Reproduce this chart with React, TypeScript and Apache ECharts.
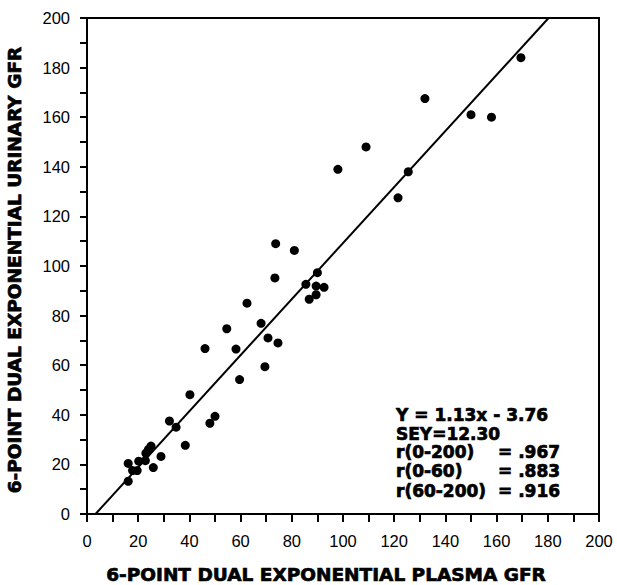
import React, { useEffect, useRef } from "react";
import * as echarts from "echarts";

const xTitle = "6-POINT DUAL EXPONENTIAL PLASMA GFR";
const yTitle = "6-POINT DUAL EXPONENTIAL URINARY GFR";

const plasmaGFR = [
  169.5, 132, 150, 158, 109, 98, 125.5, 121.5,
  73.7, 81, 90, 73.4, 85.5, 89.5, 92.6, 89.5, 86.8, 62.5, 68, 54.6, 70.7, 74.6,
  46.1, 58.2, 69.5, 59.6, 40.2, 50, 48, 32.2, 34.8, 38.4, 28.9, 25, 24, 23,
  20.2, 16.1, 22.8, 25.9, 17.8, 19.6, 16.1,
];
const urinaryGFR = [
  184, 167.5, 161, 160, 148, 139, 138, 127.5,
  109, 106.3, 97.3, 95.2, 92.6, 91.9, 91.4, 88.4, 86.6, 85, 76.9, 74.7, 71, 69,
  66.7, 66.5, 59.4, 54.2, 48.1, 39.4, 36.6, 37.5, 35, 27.7, 23.2, 27.4, 26, 24.5,
  21.3, 20.4, 21.5, 18.7, 17.5, 17.5, 13.2,
];

const slope = 1.13;
const intercept = -3.76;
const statLabels = ["r(0-200)", "r(0-60)", "r(60-200)"];
const statValues = ["= .967", "= .883", "= .916"];
const eqText = "Y = 1.13x - 3.76";
const seyText = "SEY=12.30";

export default function App() {
  const ref = useRef<HTMLDivElement>(null);
  useEffect(() => {
    if (!ref.current) return;
    const chart = echarts.init(ref.current, undefined, { renderer: "svg" });
    const pts = plasmaGFR.map((x, i) => [x, urinaryGFR[i]]);
    const x0 = -intercept / slope;
    const x1 = (200 - intercept) / slope;
    const lineData = [
      [x0, slope * x0 + intercept],
      [x1, slope * x1 + intercept],
    ];
    const labelFont = "'Liberation Sans', Arial, sans-serif";
    const boldFont = "'DejaVu Sans', sans-serif";
    const heavy = (size: number) => ({
      font: `bold ${size}px ${boldFont}`,
      fill: "#000",
      stroke: "#000",
      lineWidth: 0.7,
    });
    const graphics: any[] = [
      {
        type: "text",
        style: {
          text: xTitle,
          x: 326,
          y: 574,
          align: "center",
          verticalAlign: "middle",
          ...heavy(18.5),
        },
      },
      {
        type: "text",
        x: 14,
        y: 270,
        rotation: Math.PI / 2,
        style: {
          text: yTitle,
          x: 0,
          y: 0,
          align: "center",
          verticalAlign: "middle",
          ...heavy(18.5),
        },
      },
      {
        type: "text",
        style: { text: eqText, x: 396, y: 415, verticalAlign: "middle", ...heavy(17) },
      },
      {
        type: "text",
        style: { text: seyText, x: 396, y: 433.5, verticalAlign: "middle", ...heavy(17) },
      },
    ];
    const ys = [452, 471, 491];
    statLabels.forEach((s, i) => {
      graphics.push({
        type: "text",
        style: { text: s, x: 396, y: ys[i], verticalAlign: "middle", ...heavy(17) },
      });
      graphics.push({
        type: "text",
        style: { text: statValues[i], x: 498, y: ys[i], verticalAlign: "middle", ...heavy(17) },
      });
    });

    chart.setOption({
      animation: false,
      backgroundColor: "#fff",
      grid: {
        left: 87,
        right: 18,
        top: 18,
        bottom: 71,
        show: true,
        borderColor: "#000",
        borderWidth: 2,
        backgroundColor: "transparent",
      },
      xAxis: {
        type: "value",
        min: 0,
        max: 200,
        interval: 10,
        axisLine: { onZero: false, lineStyle: { color: "#000", width: 2 } },
        axisTick: { length: 8, lineStyle: { color: "#000", width: 2 } },
        splitLine: { show: false },
        axisLabel: {
          margin: 18,
          color: "#000",
          fontSize: 16.5,
          fontFamily: labelFont,
          formatter: (v: number) => (v % 20 === 0 ? String(v) : ""),
        },
      },
      yAxis: {
        type: "value",
        min: 0,
        max: 200,
        interval: 10,
        axisLine: { onZero: false, lineStyle: { color: "#000", width: 2 } },
        axisTick: { length: 7, lineStyle: { color: "#000", width: 2 } },
        splitLine: { show: false },
        axisLabel: {
          margin: 17,
          color: "#000",
          fontSize: 16.5,
          fontFamily: labelFont,
          formatter: (v: number) => (v % 20 === 0 ? String(v) : ""),
        },
      },
      series: [
        {
          type: "line",
          data: lineData,
          showSymbol: false,
          symbol: "none",
          lineStyle: { color: "#000", width: 2 },
          silent: true,
        },
        {
          type: "scatter",
          data: pts,
          symbol: "circle",
          symbolSize: 9,
          itemStyle: { color: "#000", opacity: 1 },
        },
      ],
      graphic: graphics,
    });
    return () => chart.dispose();
  }, []);
  return (
    <div
      ref={ref}
      style={{ position: "fixed", left: 0, top: 0, width: 617, height: 585, background: "#fff" }}
    />
  );
}
